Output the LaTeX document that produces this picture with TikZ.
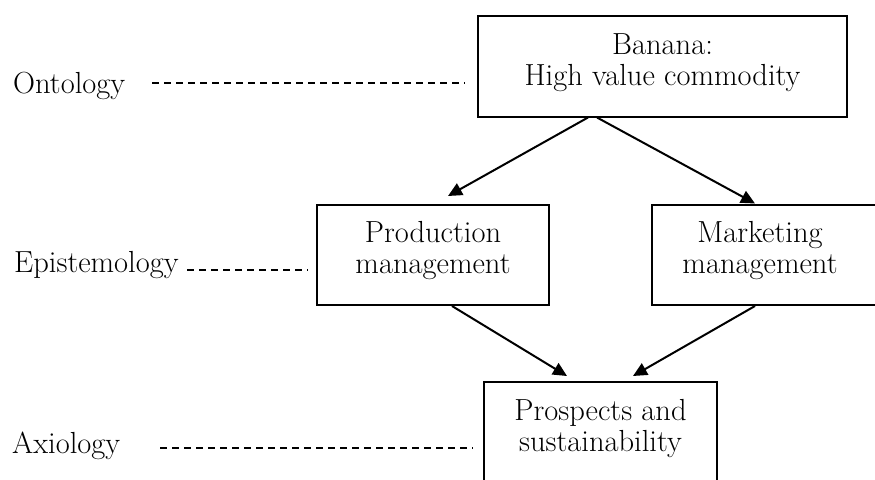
\documentclass[tikz,border=0pt]{standalone}
\usetikzlibrary{arrows.meta}
\begin{document}
\tikzset{
  boxnode/.style={draw, line width=2pt, inner sep=0pt, align=center,
    font=\fontsize{30.5}{31}\selectfont, text height=51.5pt, text depth=13.5pt},
  lbl/.style={inner sep=0pt, anchor=base west, font=\fontsize{30.5}{31}\selectfont},
  conn/.style={line width=2pt, -{Triangle[length=14pt,width=13pt]}},
  dline/.style={line width=2pt, dash pattern=on 7pt off 5pt},
}
\begin{tikzpicture}[x=1pt,y=-1pt]
\useasboundingbox (0,0) rectangle (875,479);
\clip (0,0) rectangle (875,479);
\fill[white] (0,0) rectangle (875,479);

% boxes
\node[boxnode, minimum width=369pt, minimum height=101pt] (top) at (662.5,66) {Banana:\\High value commodity};
\node[boxnode, minimum width=232pt, minimum height=100.5pt] (prod) at (433,254.75) {Production\\management};
\node[boxnode, minimum width=233pt, minimum height=100.5pt] (mkt) at (768.5,254.75) {Marketing\hspace*{17pt}\\management\hspace*{17pt}};
\node[boxnode, minimum width=233pt, minimum height=101pt] (bot) at (600.5,432.5) {Prospects and\\sustainability};

% labels
\node[lbl] (onto) at (13,93) {Ontology};
\node[lbl] (epis) at (14,272) {Epistemology};
\node[lbl] (axio) at (12,453) {Axiology};

% dashed guide lines
\coordinate (o1) at (152,83);
\coordinate (o2) at (465,83);
\coordinate (e1) at (187,270);
\coordinate (e2) at (308,270);
\coordinate (a1) at (160,448);
\coordinate (a2) at (473,448);
\draw[dline] (o1) -- (o2);
\draw[dline] (e1) -- (e2);
\draw[dline] (a1) -- (a2);

% arrows
\draw[conn] ([xshift=-74.5pt]top.south) -- ([xshift=15pt,yshift=7.5pt]prod.north);
\draw[conn] ([xshift=-65.5pt]top.south) -- ([xshift=-13.5pt]mkt.north);
\draw[conn] ([xshift=19pt]prod.south) -- ([xshift=-33.5pt,yshift=5pt]bot.north);
\draw[conn] ([xshift=-13.5pt]mkt.south) -- ([xshift=32.5pt,yshift=5pt]bot.north);
\end{tikzpicture}
\end{document}
